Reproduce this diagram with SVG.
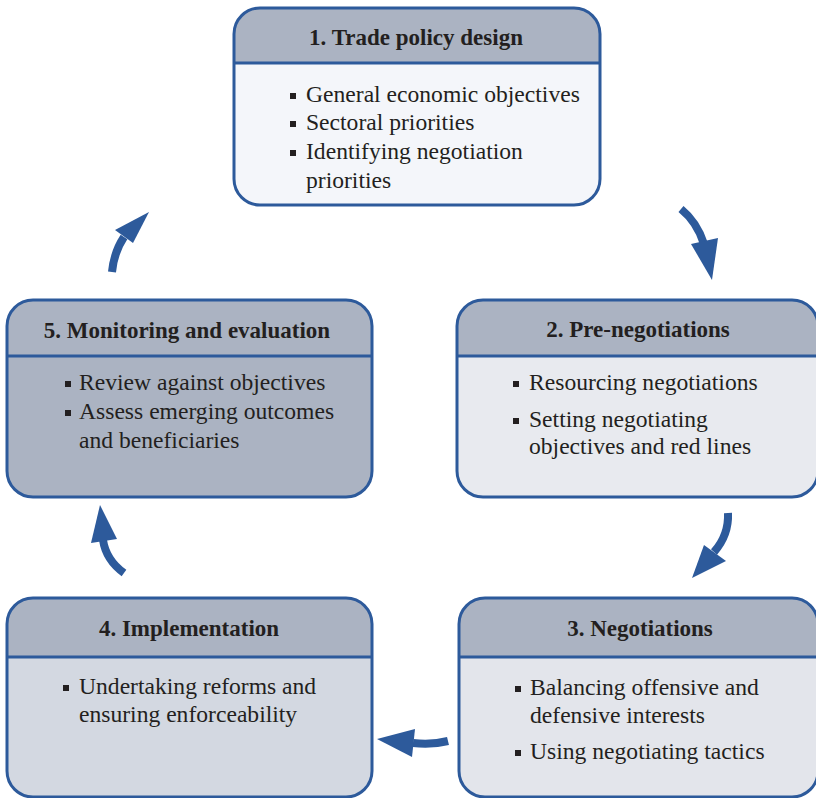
<svg xmlns="http://www.w3.org/2000/svg" width="816" height="798" viewBox="0 0 816 798">
<style>
.hdr{fill:#abb3c2}
.out{fill:none;stroke:#2d5a9b;stroke-width:3}
.div{stroke:#2d5a9b;stroke-width:3}
.t{font-family:"Liberation Serif","Times New Roman",serif;font-size:23.6px;fill:#231f20}
.h{font-weight:bold;text-anchor:middle;font-size:23px}
.b{fill:#231f20}
.arr{fill:none;stroke:#2d5a9b;stroke-width:8}
.ah{fill:#2d5a9b}
</style>
<rect width="816" height="798" fill="#ffffff"/>

<g id="node1">
<rect x="234" y="8" width="366" height="197" rx="26" fill="#f4f6fa"/>
<path class="hdr" d="M234 63 V34 A26 26 0 0 1 260 8 H574 A26 26 0 0 1 600 34 V63 Z"/>
<line class="div" x1="234" y1="63" x2="600" y2="63"/>
<rect class="out" x="234" y="8" width="366" height="197" rx="26"/>
<text class="t h" x="416" y="45">1. Trade policy design</text>
<rect class="b" x="290" y="93" width="6" height="6"/>
<text class="t" x="306" y="102">General economic objectives</text>
<rect class="b" x="290" y="121" width="6" height="6"/>
<text class="t" x="306" y="130">Sectoral priorities</text>
<rect class="b" x="290" y="150" width="6" height="6"/>
<text class="t" x="306" y="159">Identifying negotiation</text>
<text class="t" x="306" y="188">priorities</text>
</g>

<g id="node2">
<rect x="457" y="300" width="361" height="197" rx="26" fill="#e8eaef"/>
<path class="hdr" d="M457 356 V326 A26 26 0 0 1 483 300 H792 A26 26 0 0 1 818 326 V356 Z"/>
<line class="div" x1="457" y1="356" x2="818" y2="356"/>
<rect class="out" x="457" y="300" width="361" height="197" rx="26"/>
<text class="t h" x="638" y="337">2. Pre-negotiations</text>
<rect class="b" x="513" y="381" width="6" height="6"/>
<text class="t" x="529" y="390">Resourcing negotiations</text>
<rect class="b" x="513" y="418" width="6" height="6"/>
<text class="t" x="529" y="427">Setting negotiating</text>
<text class="t" x="529" y="454">objectives and red lines</text>
</g>

<g id="node3">
<rect x="459" y="598" width="359" height="199" rx="26" fill="#e3e5eb"/>
<path class="hdr" d="M459 657 V624 A26 26 0 0 1 485 598 H792 A26 26 0 0 1 818 624 V657 Z"/>
<line class="div" x1="459" y1="657" x2="818" y2="657"/>
<rect class="out" x="459" y="598" width="359" height="199" rx="26"/>
<text class="t h" x="640" y="636">3. Negotiations</text>
<rect class="b" x="515" y="686" width="6" height="6"/>
<text class="t" x="530" y="695">Balancing offensive and</text>
<text class="t" x="530" y="723">defensive interests</text>
<rect class="b" x="515" y="750" width="6" height="6"/>
<text class="t" x="530" y="759">Using negotiating tactics</text>
</g>

<g id="node4">
<rect x="7" y="598" width="365" height="199" rx="26" fill="#d3d8e1"/>
<path class="hdr" d="M7 657 V624 A26 26 0 0 1 33 598 H346 A26 26 0 0 1 372 624 V657 Z"/>
<line class="div" x1="7" y1="657" x2="372" y2="657"/>
<rect class="out" x="7" y="598" width="365" height="199" rx="26"/>
<text class="t h" x="189" y="636">4. Implementation</text>
<rect class="b" x="63" y="685" width="6" height="6"/>
<text class="t" x="79" y="694">Undertaking reforms and</text>
<text class="t" x="79" y="722">ensuring enforceability</text>
</g>

<g id="node5">
<rect x="7" y="300" width="365" height="197" rx="26" fill="#abb3c2"/>
<line class="div" x1="7" y1="356" x2="372" y2="356"/>
<rect class="out" x="7" y="300" width="365" height="197" rx="26"/>
<text class="t h" x="187" y="338">5. Monitoring and evaluation</text>
<rect class="b" x="65" y="381" width="6" height="6"/>
<text class="t" x="79" y="390">Review against objectives</text>
<rect class="b" x="65" y="410" width="6" height="6"/>
<text class="t" x="79" y="419">Assess emerging outcomes</text>
<text class="t" x="79" y="448">and beneficiaries</text>
</g>

<g id="connectors">
<path class="arr" d="M681 209 Q697 222 704 244"/>
<polygon class="ah" points="691,244 718,238 712,280"/>
<path class="arr" d="M728 513 Q729 535 714 552"/>
<polygon class="ah" points="704,545 726,561 692,578"/>
<path class="arr" d="M448 741 Q432 745 413 743"/>
<polygon class="ah" points="415,729 412,757 377,739"/>
<path class="arr" d="M124 573 Q106 560 103 540"/>
<polygon class="ah" points="91,543 117,539 100,505"/>
<path class="arr" d="M112 272 Q114 252 124 237"/>
<polygon class="ah" points="115,230 133,243 149,212"/>
</g>
</svg>
